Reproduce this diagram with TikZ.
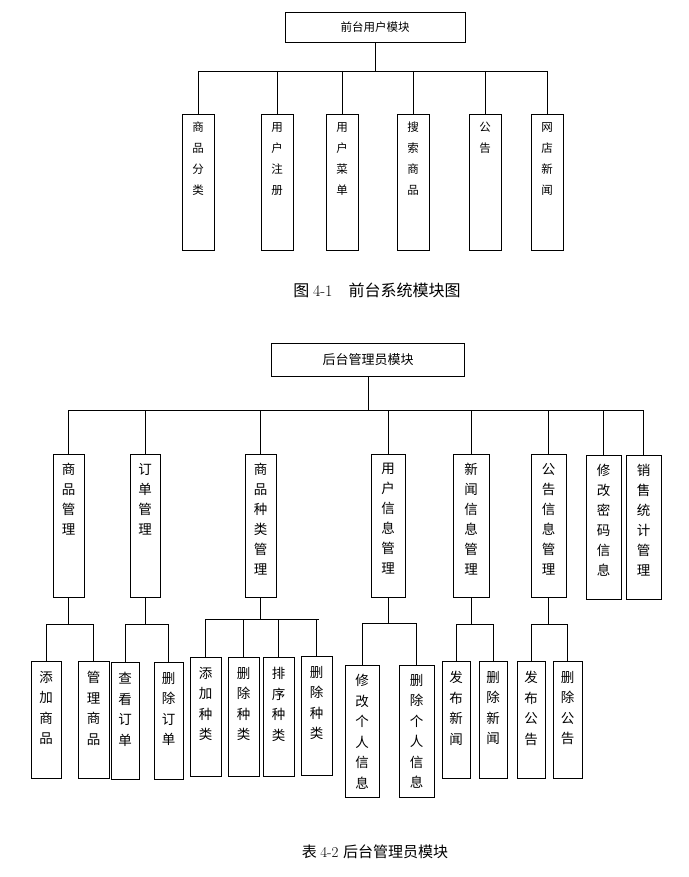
\documentclass[tikz,border=0pt]{standalone}
\usepackage{fontspec}
\newfontfamily\cjk{Noto Sans CJK SC}
\newcommand\mbx[8]{% name x1 y1 x2 y2 text yshift fontsize/spacing
  \node[bx, minimum width={(#4-#2)*1pt}, minimum height={(#5-#3)*1pt}, anchor=north] (#1) at ({(#2+#4)/2},#3) {};
  \node[anchor=north, align=center, inner sep=0pt, font=#8] (#1t) at (#1.north) [yshift=-#7pt] {#6};}
\begin{document}
\begin{tikzpicture}[x=1pt,y=-1pt, bx/.style={draw, line width=0.9pt, inner sep=0pt}, ln/.style={line width=0.9pt}]
\useasboundingbox (0,0) rectangle (688,877);
\fill[white] (0,0) rectangle (688,877);
\def\fa{\cjk\fontsize{11.5}{21}\selectfont}
\def\fb{\cjk\fontsize{13.5}{20}\selectfont}
\def\fc{\cjk\fontsize{13.5}{20.5}\selectfont}
% top diagram
\node[bx, minimum width=180pt, minimum height=30pt, font=\cjk\fontsize{11.5}{13}\selectfont] (T) at (375,27) {前台用户模块};
\mbx{a1}{182}{114}{214}{250}{商\\品\\分\\类}{8}{\fa}
\mbx{a2}{261}{114}{293}{250}{用\\户\\注\\册}{8}{\fa}
\mbx{a3}{326}{114}{358}{250}{用\\户\\菜\\单}{8}{\fa}
\mbx{a4}{397}{114}{429}{250}{搜\\索\\商\\品}{8}{\fa}
\mbx{a5}{469}{114}{501}{250}{公\\告}{8}{\fa}
\mbx{a6}{531}{114}{563}{250}{网\\店\\新\\闻}{8}{\fa}
\coordinate (tb) at (375,71);
\draw[ln] (T.south) -- (T.south |- tb);
\draw[ln] (a1.north |- tb) -- (a6.north |- tb);
\foreach \i in {1,...,6} \draw[ln] (a\i.north |- tb) -- (a\i.north);
\node[font=\cjk\fontsize{16}{18}\selectfont] (cap1) at (377,290) {图 \rmfamily 4-1\quad \cjk 前台系统模块图};
% bottom diagram
\node[bx, minimum width=193pt, minimum height=33pt, font=\cjk\fontsize{13}{15}\selectfont] (B) at (368,360) {后台管理员模块};
\mbx{b1}{53}{454}{84}{597}{商\\品\\管\\理}{9}{\fb}
\mbx{b2}{130}{454}{160}{597}{订\\单\\管\\理}{9}{\fb}
\mbx{b3}{245}{454}{276}{597}{商\\品\\种\\类\\管\\理}{9}{\fb}
\mbx{b4}{371}{454}{405}{597}{用\\户\\信\\息\\管\\理}{9}{\fb}
\mbx{b5}{453}{454}{489}{597}{新\\闻\\信\\息\\管\\理}{9}{\fb}
\mbx{b6}{531}{454}{566}{597}{公\\告\\信\\息\\管\\理}{9}{\fb}
\mbx{b7}{586}{455}{621}{599}{修\\改\\密\\码\\信\\息}{9}{\fb}
\mbx{b8}{626}{455}{661}{599}{销\\售\\统\\计\\管\\理}{9}{\fb}
\coordinate (bb) at (368,410);
\draw[ln] (B.south) -- (B.south |- bb);
\draw[ln] (b1.north |- bb) -- (b8.north |- bb);
\foreach \i in {1,...,8} \draw[ln] (b\i.north |- bb) -- (b\i.north);
% level 3
\mbx{c1}{31}{661}{61}{778}{添\\加\\商\\品}{10}{\fc}
\mbx{c2}{78}{661}{109}{778}{管\\理\\商\\品}{10}{\fc}
\mbx{c3}{111}{662}{139}{779}{查\\看\\订\\单}{10}{\fc}
\mbx{c4}{154}{662}{183}{779}{删\\除\\订\\单}{10}{\fc}
\mbx{c5}{190}{657}{221}{776}{添\\加\\种\\类}{10}{\fc}
\mbx{c6}{228}{657}{259}{776}{删\\除\\种\\类}{10}{\fc}
\mbx{c7}{263}{657}{294}{776}{排\\序\\种\\类}{10}{\fc}
\mbx{c8}{301}{656}{332}{775}{删\\除\\种\\类}{10}{\fc}
\mbx{c9}{345}{665}{379}{797}{修\\改\\个\\人\\信\\息}{9}{\fc}
\mbx{c10}{399}{665}{434}{797}{删\\除\\个\\人\\信\\息}{9}{\fc}
\mbx{c11}{442}{661}{470}{778}{发\\布\\新\\闻}{10}{\fc}
\mbx{c12}{479}{661}{507}{778}{删\\除\\新\\闻}{10}{\fc}
\mbx{c13}{517}{661}{545}{778}{发\\布\\公\\告}{10}{\fc}
\mbx{c14}{553}{661}{582}{778}{删\\除\\公\\告}{10}{\fc}
\coordinate (g1) at (0,624); \coordinate (g2) at (0,624); \coordinate (g3) at (0,619);
\coordinate (g4) at (0,623); \coordinate (g5) at (0,624); \coordinate (g6) at (0,624);
\foreach \p/\l/\r in {1/1/2,2/3/4,4/9/10,5/11/12,6/13/14}{
  \draw[ln] (b\p.south) -- (b\p.south |- g\p);
  \draw[ln] (c\l.north |- g\p) -- (c\r.north |- g\p);
  \draw[ln] (c\l.north |- g\p) -- (c\l.north);
  \draw[ln] (c\r.north |- g\p) -- (c\r.north);}
\draw[ln] (b3.south) -- (b3.south |- g3);
\draw[ln] (c5.north |- g3) -- ([xshift=2pt]c8.north |- g3);
\foreach \i in {5,...,8} \draw[ln] (c\i.north |- g3) -- (c\i.north);
\node[font=\cjk\fontsize{15}{17}\selectfont] (cap2) at (375,852) {表 \rmfamily 4-2 \cjk 后台管理员模块};
\end{tikzpicture}
\end{document}
